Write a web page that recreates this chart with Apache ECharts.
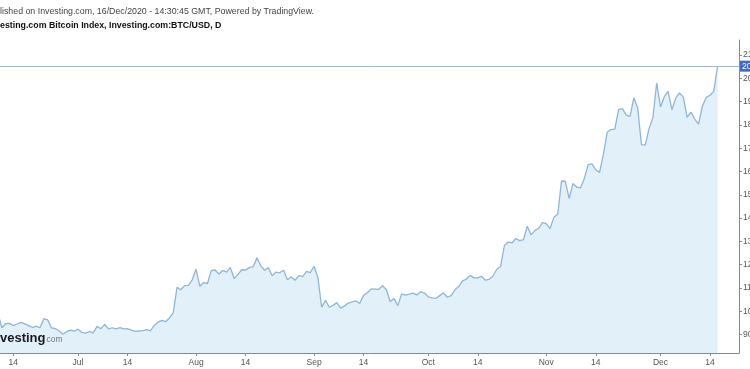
<!DOCTYPE html>
<html>
<head>
<meta charset="utf-8">
<script src="https://cdn.jsdelivr.net/npm/echarts@6/dist/echarts.min.js"></script>
<style>
html,body{margin:0;padding:0;background:#fff;}
#chart{width:750px;height:369px;}
</style>
</head>
<body>
<div id="chart"></div>
<script>
// Daily BTC/USD closes (each month starts at the given day)
var junStart = 8;
var btcJun = [9760, 9780, 9880, 9290, 9470, 9480, 9380, 9450, 9520, 9460, 9380, 9300, 9360, 9290, 9680, 9630, 9290, 9250, 9160, 9010, 9120, 9190, 9140];
var btcJul = [9230, 9090, 9060, 9130, 9070, 9350, 9250, 9430, 9240, 9290, 9240, 9300, 9240, 9250, 9190, 9130, 9150, 9170, 9210, 9160, 9390, 9530, 9610, 9550, 9710, 9930, 11030, 10920, 11100, 11110, 11350];
var btcAug = [11810, 11070, 11230, 11190, 11740, 11770, 11600, 11750, 11680, 11880, 11400, 11580, 11780, 11770, 11870, 11910, 12290, 11960, 11760, 11870, 11520, 11680, 11650, 11760, 11350, 11470, 11330, 11530, 11480, 11710, 11660];
var btcSep = [11930, 11450, 10170, 10470, 10170, 10250, 10370, 10130, 10230, 10350, 10400, 10440, 10330, 10680, 10790, 10960, 10950, 10940, 11090, 10920, 10420, 10540, 10240, 10740, 10690, 10730, 10780, 10700, 10840, 10780];
var btcOct = [10620, 10570, 10550, 10670, 10790, 10600, 10670, 10920, 11060, 11300, 11380, 11540, 11430, 11430, 11500, 11330, 11370, 11510, 11800, 11920, 12820, 12970, 12930, 13120, 13030, 13070, 13650, 13280, 13460, 13560, 13800];
var btcNov = [13760, 13550, 14030, 14160, 15590, 15580, 14840, 15480, 15330, 15300, 15700, 16290, 16330, 16070, 15960, 16730, 17680, 17800, 17820, 18650, 18700, 18420, 18370, 19160, 18740, 17150, 17130, 17850, 18300, 19800];
var btcDec = [18770, 19210, 19440, 18650, 19150, 19370, 19190, 18320, 18550, 18250, 18030, 18800, 19170, 19270, 19440, 20520];

// Axis ticks
var xTickDates = ['2020-06-14','2020-07-01','2020-07-14','2020-08-01','2020-08-14','2020-09-01','2020-09-14','2020-10-01','2020-10-14','2020-11-01','2020-11-14','2020-12-01','2020-12-14'];
var xTickLabels = ['14','Jul','14','Aug','14','Sep','14','Oct','14','Nov','14','Dec','14'];
var yTicks = [9000,10000,11000,12000,13000,14000,15000,16000,17000,18000,19000,20000,21000];

var titleLine1 = 'Published on Investing.com, 16/Dec/2020 - 14:30:45 GMT, Powered by TradingView.';
var titleLine2 = 'Investing.com Bitcoin Index, Investing.com:BTC/USD, D';

var DAY = 86400000;
function ts(s){ var p = s.split('-'); return Date.UTC(+p[0], +p[1]-1, +p[2]); }

var months = [[5, junStart, btcJun],[6,1,btcJul],[7,1,btcAug],[8,1,btcSep],[9,1,btcOct],[10,1,btcNov],[11,1,btcDec]];
var seriesData = [];
months.forEach(function(m){
  m[2].forEach(function(v, i){
    seriesData.push([Date.UTC(2020, m[0], m[1] + i), v]);
  });
});
var lastValue = seriesData[seriesData.length-1][1];
var tickTs = xTickDates.map(ts);

var chart = echarts.init(document.getElementById('chart'), null, {renderer:'canvas'});
chart.setOption({
  animation: false,
  backgroundColor: '#ffffff',
  grid: { left: 0, right: 11, top: 40, bottom: 16, containLabel: false, outerBoundsMode: 'none' },
  xAxis: {
    type: 'value',
    scale: true,
    min: Date.UTC(2020, 5, 10, 12),
    max: Date.UTC(2020, 11, 21, 15),
    axisLine: { show: true, lineStyle: { color: '#8a8a8a', width: 1 } },
    axisTick: { show: true, length: 3, customValues: tickTs, lineStyle: { color: '#8a8a8a' } },
    axisLabel: {
      customValues: tickTs,
      margin: 5,
      fontSize: 8.5,
      color: '#555',
      hideOverlap: false,
      fontFamily: 'Liberation Sans, Arial, sans-serif',
      formatter: function(v){
        for (var i = 0; i < tickTs.length; i++) {
          if (Math.abs(tickTs[i] - v) < DAY/2) return xTickLabels[i];
        }
        return '';
      }
    },
    splitLine: { show: false }
  },
  yAxis: {
    type: 'value',
    position: 'right',
    scale: true,
    min: 8206,
    max: 21644,
    axisLine: { show: true, lineStyle: { color: '#8a8a8a', width: 1 } },
    axisTick: { show: true, length: 3, customValues: yTicks, lineStyle: { color: '#8a8a8a' } },
    axisLabel: {
      customValues: yTicks,
      margin: 4,
      fontSize: 8.5,
      color: '#555',
      fontFamily: 'Liberation Sans, Arial, sans-serif',
      formatter: function(v){ return String(v); }
    },
    splitLine: { show: false }
  },
  graphic: [
    { type: 'text', x: -15.6, y: 11.7, z: 10,
      style: { text: titleLine1, fill: '#444', font: '8.8px "Liberation Sans", Arial, sans-serif', verticalAlign: 'middle' } },
    { type: 'text', x: -12.7, y: 25.7, z: 10,
      style: { text: titleLine2, fill: '#111', font: 'bold 8.8px "Liberation Sans", Arial, sans-serif', verticalAlign: 'middle' } },
    { type: 'text', x: -11.6, y: 338, z: 10,
      style: {
        text: '{a|Investing}{b|com}',
        verticalAlign: 'middle',
        rich: {
          a: { fontSize: 13, fontWeight: 'bold', fill: '#1a1a1a', fontFamily: 'Liberation Sans, Arial, sans-serif' },
          b: { fontSize: 8.5, fill: '#777', fontFamily: 'Liberation Sans, Arial, sans-serif', padding: [3, 0, 0, 1] }
        }
      } }
  ],
  series: [{
    type: 'line',
    data: seriesData,
    showSymbol: false,
    symbol: 'none',
    smooth: false,
    clip: true,
    lineStyle: { color: '#8fb6d8', width: 1.3 },
    areaStyle: { color: '#e2f0fa', opacity: 1 },
    markLine: {
      silent: true,
      symbol: ['none','none'],
      data: [{ yAxis: lastValue }],
      lineStyle: { color: '#9fb5d2', width: 1, type: 'solid' },
      label: {
        show: true,
        position: 'end',
        distance: 1,
        formatter: function(){ return String(lastValue); },
        backgroundColor: '#3a6bd0',
        color: '#fff',
        fontSize: 8.5,
        padding: [1, 2],
        fontFamily: 'Liberation Sans, Arial, sans-serif'
      }
    }
  }]
});
</script>
</body>
</html>
